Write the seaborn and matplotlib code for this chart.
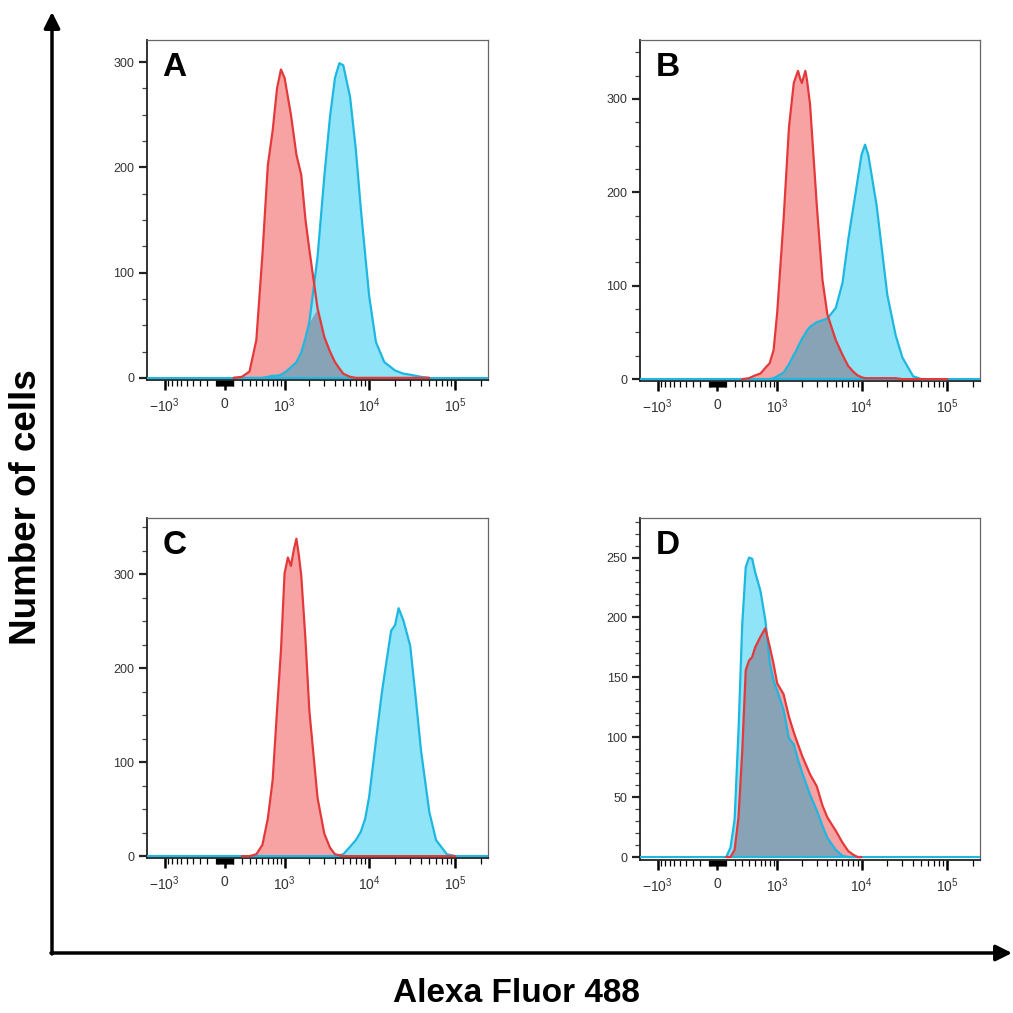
import numpy as np
import matplotlib
matplotlib.use('Agg')
import matplotlib.pyplot as plt
import seaborn as sns
from matplotlib.ticker import FixedLocator, MultipleLocator

sns.set_theme(style='ticks')
plt.rcParams['font.family'] = ['Liberation Sans', 'DejaVu Sans']
plt.rcParams['mathtext.fontset'] = 'custom'
plt.rcParams['mathtext.rm'] = 'Liberation Sans'
plt.rcParams['mathtext.default'] = 'regular'

# ---- data (fluorescence channel -> number of cells) ----
# red = control, blue = stained sample
a_fluor = [100, 200, 300, 400, 500, 600, 700, 800, 900, 1000, 1200, 1400, 1600, 1800, 2000,
           2500, 3000, 3500, 4000, 4500, 5000, 6000, 7000, 8000, 9000, 10000, 12000, 15000,
           20000, 25000, 30000, 40000, 50000]
a_control = [0, 1, 6, 36, 117, 202, 235, 275, 293, 285, 250, 212, 193, 150, 122,
             66, 39, 25, 15, 9, 4, 1, 0, 0, 0, 0, 0, 0, 0, 0, 0, 0, 0]
a_sample = [0, 0, 0, 0, 0, 1, 2, 2, 3, 5, 10, 15, 24, 38, 53,
            115, 191, 248, 285, 299, 297, 267, 217, 161, 117, 78, 34, 15, 7, 4, 3, 1, 0]

b_fluor = [300, 400, 500, 600, 700, 800, 900, 1000, 1200, 1400, 1600, 1700, 1800, 1900, 2000,
           2200, 2300, 2500, 3000, 3500, 4000, 5000, 6000, 7000, 7500, 8000, 9000, 10000,
           11000, 12000, 15000, 20000, 25000, 30000, 40000, 50000, 100000]
b_control = [0, 1, 4, 6, 12, 17, 31, 71, 170, 270, 317, 324, 330, 322, 317,
             330, 320, 294, 186, 106, 69, 42, 26, 14, 11, 8, 4, 2,
             1, 1, 1, 1, 1, 0, 0, 0, 0]
b_sample = [0, 0, 0, 0, 0, 0, 1, 3, 7, 16, 26, 30, 35, 39, 43,
            49, 52, 56, 61, 63, 65, 76, 103, 149, 167, 183, 213, 240,
            251, 240, 186, 90, 47, 23, 3, 0, 0]

c_fluor = [200, 300, 400, 500, 600, 700, 800, 900, 1000, 1100, 1200, 1300, 1400, 1500, 1600,
           1800, 2000, 2500, 3000, 3500, 4000, 5000, 6000, 7000, 8000, 9000, 10000, 12000,
           14000, 16000, 18000, 20000, 22000, 25000, 30000, 35000, 40000, 50000, 60000,
           80000, 100000]
c_control = [0, 0, 2, 12, 40, 81, 155, 219, 301, 318, 309, 326, 338, 320, 299,
             230, 155, 62, 24, 9, 2, 0, 0, 0, 0, 0, 0, 0,
             0, 0, 0, 0, 0, 0, 0, 0, 0, 0, 0, 0, 0]
c_sample = [0, 0, 0, 0, 0, 0, 0, 0, 0, 0, 0, 0, 0, 0, 0,
            0, 0, 0, 0, 0, 0, 2, 10, 17, 26, 40, 63, 123,
            173, 209, 240, 246, 264, 251, 224, 166, 113, 47, 17, 2, 0]

d_fluor = [100, 150, 200, 250, 300, 350, 400, 450, 500, 600, 700, 800, 900, 1000, 1200,
           1400, 1600, 1800, 2000, 2500, 3000, 3500, 4000, 5000, 6000, 7000, 8000, 9000, 10000]
d_control = [0, 0, 6, 33, 88, 156, 164, 167, 175, 184, 191, 176, 161, 145, 136,
             117, 104, 94, 85, 69, 59, 43, 33, 22, 12, 5, 2, 0, 0]
d_sample = [0, 8, 31, 106, 194, 242, 250, 249, 238, 222, 198, 163, 147, 139, 123,
            99, 94, 81, 71, 52, 39, 26, 16, 6, 1, 0, 0, 0, 0]

x_major = [-1000, 0, 1000, 10000, 100000]
x_major_labels = ['$-10^3$', '0', '$10^3$', '$10^4$', '$10^5$']

RED_LINE = '#e4393b'
RED_FILL = '#f8a3a3'
BLUE_LINE = '#1db7e0'
BLUE_FILL = '#8fe4f8'
OVERLAP = '#88a3b5'


def biex(x):
    return np.arcsinh(np.asarray(x, dtype=float) / 420.0)


def biex_inv(y):
    return 420.0 * np.sinh(y)


# minor ticks of the biexponential axis
x_minor = []
for dec in [10, 100]:
    for k in range(1, 10):
        x_minor += [k * dec, -k * dec]
for dec in [1000, 10000]:
    for k in range(2, 10):
        x_minor.append(k * dec)
x_minor.append(200000)

fig = plt.figure(figsize=(10.13, 10.13), dpi=100)

# outer arrows
ax0 = fig.add_axes([0, 0, 1, 1])
ax0.set_xlim(0, 1013)
ax0.set_ylim(1013, 0)
ax0.axis('off')
arrow = dict(arrowstyle='-|>', lw=2.5, color='black', mutation_scale=24,
             shrinkA=0, shrinkB=0)
ax0.annotate('', xy=(52, 12), xytext=(52, 954), arrowprops=arrow)
ax0.annotate('', xy=(1012, 953), xytext=(51, 953), arrowprops=arrow)

panels = [
    ('A', a_fluor, a_control, a_sample, [0.1451, 0.6249, 0.3366, 0.3356], (-2, 321), 100, 25),
    ('B', b_fluor, b_control, b_sample, [0.6318, 0.6239, 0.3356, 0.3366], (-2, 363), 100, 25),
    ('C', c_fluor, c_control, c_sample, [0.1451, 0.1530, 0.3366, 0.3356], (-2, 360), 100, 25),
    ('D', d_fluor, d_control, d_sample, [0.6318, 0.1510, 0.3356, 0.3376], (-2.5, 283), 50, 10),
]

for letter, fl, ctrl, samp, rect, ylim, ymaj, ymin in panels:
    ax = fig.add_axes(rect)
    fl = np.array(fl, dtype=float)
    ctrl = np.array(ctrl, dtype=float)
    samp = np.array(samp, dtype=float)

    ax.fill_between(fl, 0, ctrl, color=RED_FILL, lw=0, zorder=1)
    ax.fill_between(fl, 0, samp, color=BLUE_FILL, lw=0, zorder=1)
    ax.fill_between(fl, 0, np.minimum(ctrl, samp), color=OVERLAP, lw=0, zorder=2)
    ax.axhline(0, color=BLUE_LINE, lw=1.5, zorder=3)
    sns.lineplot(x=fl, y=samp, ax=ax, color=BLUE_LINE, linewidth=1.6,
                 estimator=None, sort=False, legend=False, zorder=4)
    sns.lineplot(x=fl, y=ctrl, ax=ax, color=RED_LINE, linewidth=1.6,
                 estimator=None, sort=False, legend=False, zorder=4)

    ax.set_xscale('function', functions=(biex, biex_inv))
    ax.set_xlim(-1650, 240000)
    ax.set_ylim(*ylim)
    ax.xaxis.set_major_locator(FixedLocator(x_major))
    ax.set_xticklabels(x_major_labels)
    ax.xaxis.set_minor_locator(FixedLocator(x_minor))
    ax.yaxis.set_major_locator(MultipleLocator(ymaj))
    ax.yaxis.set_minor_locator(MultipleLocator(ymin))
    ax.set_xlabel('')
    ax.set_ylabel('')

    ax.tick_params(axis='x', which='major', length=7, width=1.8, color='black',
                   labelsize=10, labelcolor='#333333', pad=5)
    ax.tick_params(axis='x', which='minor', length=4, width=0.9, color='black')
    ax.tick_params(axis='y', which='major', length=6, width=1.6, color='#222222',
                   labelsize=9, labelcolor='#333333', pad=3)
    ax.tick_params(axis='y', which='minor', length=3.5, width=0.9, color='#444444')

    for side in ['left', 'bottom']:
        ax.spines[side].set_color('#222222')
        ax.spines[side].set_linewidth(1.3)
    for side in ['top', 'right']:
        ax.spines[side].set_color('#666666')
        ax.spines[side].set_linewidth(0.9)

    ax.text(0.045, 0.965, letter, transform=ax.transAxes, fontsize=24,
            fontweight='bold', va='top', ha='left', color='black')

fig.text(0.0266, 0.4995, 'Number of cells', rotation=90, fontsize=26.5,
         fontweight='bold', ha='center', va='center', color='black')
fig.text(0.51, 0.019, 'Alexa Fluor 488', fontsize=24, fontweight='bold',
         ha='center', va='center', color='black')

fig.savefig('out.png', dpi=100, facecolor='white')
